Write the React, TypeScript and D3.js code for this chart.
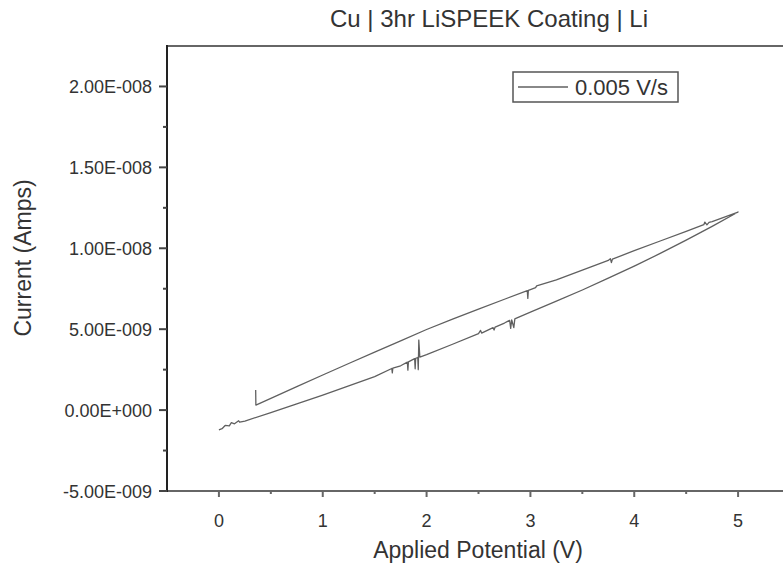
import React from "react";
import * as d3 from "d3";

const title = "Cu | 3hr LiSPEEK Coating | Li";
const xTitle = "Applied Potential (V)";
const yTitle = "Current (Amps)";
const legendLabel = "0.005 V/s";

const xMajorTicks = [0, 1, 2, 3, 4, 5];
const xMinorTicks = [0.5, 1.5, 2.5, 3.5, 4.5];
const yMajorTicks = [-5e-9, 0, 5e-9, 1e-8, 1.5e-8, 2e-8];
const yTickLabels = ["-5.00E-009", "0.00E+000", "5.00E-009", "1.00E-008", "1.50E-008", "2.00E-008"];
const yMinorTicks = [-2.5e-9, 2.5e-9, 7.5e-9, 1.25e-8, 1.75e-8];

// forward sweep (upper branch)
const forwardPotential = [0.354, 0.356, 0.5, 0.75, 1.0, 1.25, 1.5, 1.75, 2.0, 2.25, 2.5, 2.75, 2.97, 2.975, 2.98, 3.0, 3.05, 3.06, 3.25, 3.5, 3.75, 3.77, 3.78, 3.79, 4.0, 4.25, 4.5, 4.67, 4.68, 4.7, 4.72, 4.75, 5.0];
const forwardCurrent = [1.24e-9, 0.31e-9, 0.72e-9, 1.45e-9, 2.17e-9, 2.88e-9, 3.58e-9, 4.28e-9, 4.98e-9, 5.62e-9, 6.24e-9, 6.85e-9, 7.38e-9, 6.9e-9, 7.4e-9, 7.45e-9, 7.57e-9, 7.68e-9, 8.05e-9, 8.65e-9, 9.25e-9, 9.36e-9, 9.12e-9, 9.33e-9, 9.85e-9, 1.045e-8, 1.105e-8, 1.146e-8, 1.162e-8, 1.145e-8, 1.16e-8, 1.165e-8, 1.224e-8];

// reverse sweep (lower branch)
const reversePotential = [5.0, 4.75, 4.5, 4.25, 4.0, 3.75, 3.5, 3.25, 3.0, 2.86, 2.85, 2.84, 2.82, 2.81, 2.8, 2.78, 2.75, 2.66, 2.65, 2.64, 2.53, 2.52, 2.5, 2.25, 2.0, 1.935, 1.925, 1.92, 1.915, 1.895, 1.89, 1.885, 1.825, 1.82, 1.815, 1.75, 1.675, 1.67, 1.665, 1.5, 1.25, 1.0, 0.75, 0.5, 0.25, 0.2, 0.19, 0.15, 0.12, 0.1, 0.06, 0.03, 0.0];
const reverseCurrent = [1.224e-8, 1.135e-8, 1.05e-8, 9.68e-9, 8.9e-9, 8.15e-9, 7.42e-9, 6.73e-9, 6.06e-9, 5.67e-9, 5.64e-9, 5.1e-9, 5.58e-9, 5.05e-9, 5.55e-9, 5.48e-9, 5.38e-9, 5.13e-9, 4.95e-9, 5.1e-9, 4.76e-9, 4.92e-9, 4.73e-9, 4.07e-9, 3.43e-9, 3.28e-9, 4.33e-9, 2.5e-9, 3.25e-9, 3.2e-9, 2.55e-9, 3.18e-9, 2.98e-9, 2.47e-9, 2.96e-9, 2.74e-9, 2.6e-9, 2.3e-9, 2.57e-9, 2.07e-9, 1.49e-9, 0.93e-9, 0.38e-9, -0.15e-9, -0.68e-9, -0.75e-9, -0.66e-9, -0.85e-9, -0.78e-9, -0.98e-9, -0.95e-9, -1.15e-9, -1.22e-9];

const FONT = "'Liberation Sans', Arial, sans-serif";

export default function App() {
  const W = 783;
  const H = 569;
  const x = d3.scaleLinear().domain([-0.5, 5.5]).range([167, 790]);
  const y = d3.scaleLinear().domain([-5e-9, 2.25e-8]).range([491, 46]);

  const pts: [number, number][] = [];
  forwardPotential.forEach((v, i) => pts.push([v, forwardCurrent[i]]));
  reversePotential.forEach((v, i) => pts.push([v, reverseCurrent[i]]));
  const line = d3
    .line<[number, number]>()
    .x((d) => x(d[0]))
    .y((d) => y(d[1]));

  const x0 = x(-0.5);
  const yb = y(-5e-9);
  const yt = y(2.25e-8);

  return (
    <svg
      width={W}
      height={H}
      style={{ position: "absolute", left: 0, top: 0, background: "#fff" }}
      fontFamily={FONT}
    >
      <rect x={0} y={0} width={W} height={H} fill="#fff" />
      <text x={489} y={27} textAnchor="middle" fontSize={24} fill="#333">
        {title}
      </text>

      {/* data */}
      <path d={line(pts) || ""} fill="none" stroke="#606060" strokeWidth={1.3} strokeLinejoin="round" />

      {/* axes */}
      <line x1={x0} x2={W} y1={yt} y2={yt} stroke="#666" strokeWidth={2} />
      <line x1={x0} x2={W} y1={yb} y2={yb} stroke="#666" strokeWidth={2} />
      <line x1={x0} x2={x0} y1={yt - 1} y2={yb + 1} stroke="#222" strokeWidth={2} />

      {xMajorTicks.map((t) => (
        <g key={"xm" + t}>
          <line x1={x(t)} x2={x(t)} y1={yb} y2={yb + 6} stroke="#666" strokeWidth={2} />
          <text x={x(t)} y={527} textAnchor="middle" fontSize={18} fill="#333">
            {String(t)}
          </text>
        </g>
      ))}
      {xMinorTicks.map((t) => (
        <line key={"xn" + t} x1={x(t)} x2={x(t)} y1={yb} y2={yb + 3} stroke="#666" strokeWidth={2} />
      ))}

      {yMajorTicks.map((t, i) => (
        <g key={"ym" + t}>
          <line x1={x0 - 8} x2={x0} y1={y(t)} y2={y(t)} stroke="#444" strokeWidth={2} />
          <text x={152} y={y(t) + 6.5} textAnchor="end" fontSize={18} fill="#333">
            {yTickLabels[i]}
          </text>
        </g>
      ))}
      {yMinorTicks.map((t) => (
        <line key={"yn" + t} x1={x0 - 4} x2={x0} y1={y(t)} y2={y(t)} stroke="#444" strokeWidth={2} />
      ))}

      <text x={478} y={558} textAnchor="middle" fontSize={23} fill="#333">
        {xTitle}
      </text>
      <text
        transform={`translate(31, 258) rotate(-90)`}
        textAnchor="middle"
        fontSize={23}
        fill="#333"
      >
        {yTitle}
      </text>

      {/* legend */}
      <rect x={513} y={72} width={165} height={30} fill="#fff" stroke="#555" strokeWidth={1.5} />
      <line x1={518} x2={568} y1={87} y2={87} stroke="#606060" strokeWidth={1.3} />
      <text x={575} y={95} fontSize={22} fill="#333">
        {legendLabel}
      </text>
    </svg>
  );
}
